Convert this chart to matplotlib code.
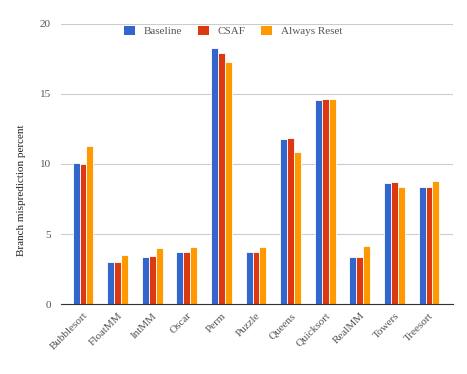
import matplotlib.pyplot as plt
import numpy as np
from matplotlib.patches import Patch

benchmarks = ['Bubblesort', 'FloatMM', 'IntMM', 'Oscar', 'Perm', 'Puzzle',
              'Queens', 'Quicksort', 'RealMM', 'Towers', 'Treesort']
baseline = [10.05, 3.02, 3.33, 3.74, 18.26, 3.74, 11.76, 14.57, 3.38, 8.62, 8.38]
csaf = [10.0, 3.02, 3.40, 3.69, 17.90, 3.74, 11.83, 14.64, 3.38, 8.69, 8.38]
always_reset = [11.28, 3.48, 3.98, 4.05, 17.26, 4.05, 10.83, 14.64, 4.12, 8.38, 8.76]

series = [('Baseline', baseline, '#3366CC'),
          ('CSAF', csaf, '#DC3912'),
          ('Always Reset', always_reset, '#FF9900')]

plt.rcParams['font.family'] = ['Liberation Serif', 'DejaVu Serif']
text_color = '#555555'

fig = plt.figure(figsize=(4.67, 3.74), dpi=100)
ax = fig.add_axes([0.130, 0.187, 0.839, 0.749])

x = np.arange(len(benchmarks))
w = 0.2
for i, (name, vals, col) in enumerate(series):
    ax.bar(x + (i - 1) * w, vals, width=w, color=col, edgecolor='white',
           linewidth=0.6, zorder=3)

ax.set_xlim(-0.645, 10.68)
ax.set_ylim(0, 20)
ax.set_yticks([0, 5, 10, 15, 20])
ax.grid(axis='y', color='#cccccc', linewidth=0.8, zorder=0)
ax.set_axisbelow(True)
for s in ['top', 'right', 'left']:
    ax.spines[s].set_visible(False)
ax.spines['bottom'].set_color('#333333')
ax.spines['bottom'].set_zorder(4)

ax.set_xticks(x)
ax.set_xticklabels(benchmarks, rotation=45, ha='right', rotation_mode='anchor',
                   fontsize=8, color=text_color)
ax.tick_params(axis='both', length=0, labelsize=8, labelcolor=text_color)
ax.tick_params(axis='x', pad=5)
ax.tick_params(axis='y', pad=7)

fig.text(0.047, 0.49, 'Branch misprediction percent', rotation=90,
         ha='center', va='center', fontsize=8, color='#222222')

handles = [Patch(facecolor=c, edgecolor='none', label=n) for n, _, c in series]
leg = ax.legend(handles=handles, loc='center', bbox_to_anchor=(0.44, 0.975),
                ncol=3, frameon=False, fontsize=8, handlelength=1.0,
                handleheight=1.0, handletextpad=0.8, columnspacing=1.4)
for t in leg.get_texts():
    t.set_color(text_color)

plt.savefig('out.png', dpi=100)
